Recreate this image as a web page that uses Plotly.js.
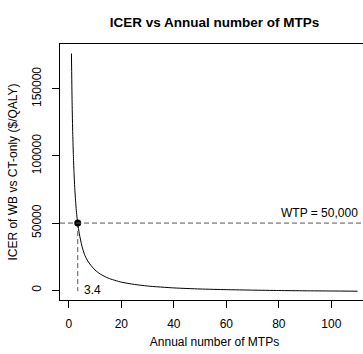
<!DOCTYPE html>
<html>
<head>
<meta charset="utf-8">
<script src="https://cdn.plot.ly/plotly-3.0.1.min.js"></script>
<style>
  html, body { margin: 0; padding: 0; overflow: hidden; background: #fff; }
  #chart { width: 372px; height: 354px; }
</style>
</head>
<body>
<div id="chart"></div>
<script>
// Annual number of MTPs and the resulting ICER of WB vs CT-only ($/QALY)
const mtps = [1, 1.25, 1.5, 1.75, 2, 2.25, 2.5, 2.75, 3, 3.4, 4, 5, 6, 7, 8, 10, 12, 15, 20, 25, 30, 40, 50, 60, 70, 80, 90, 100, 110];
const icer = [176300, 140000, 116000, 99500, 86500, 76500, 68500, 62000, 56500, 50000, 42000, 32800, 26500, 22500, 19500, 15000, 12000, 9000, 6000, 4300, 3100, 1700, 900, 400, 50, -250, -450, -600, -750];

// Willingness-to-pay threshold and the break-even number of MTPs
const wtp = 50000;
const wtpLabel = "WTP = 50,000";
const breakEven = 3.4;
const breakEvenLabel = "3.4";
const breakEvenFloor = -700;

// Axis ticks
const xTicks = [0, 20, 40, 60, 80, 100];
const yTicks = [0, 50000, 100000, 150000];
const yTickText = ["0", "50000", "100000", "150000"];

const font = "Liberation Sans, Arial, Helvetica, sans-serif";

const traces = [
  {
    x: mtps, y: icer, type: "scatter", mode: "lines",
    line: { color: "#000", width: 1, shape: "spline", smoothing: 0.6 },
    hoverinfo: "skip"
  },
  {
    // vertical guide from the threshold down to the curve floor
    x: [breakEven, breakEven], y: [wtp, breakEvenFloor], type: "scatter", mode: "lines",
    line: { color: "#555", width: 1, dash: "5px,3px" },
    hoverinfo: "skip"
  },
  {
    x: [breakEven], y: [wtp], type: "scatter", mode: "markers",
    marker: { color: "#000", size: 7 },
    hoverinfo: "skip"
  }
];

const layout = {
  width: 372, height: 354,
  margin: { l: 60, r: 3, t: 44, b: 54 },
  paper_bgcolor: "#fff", plot_bgcolor: "#fff",
  showlegend: false,
  font: { family: font, size: 12, color: "#000" },
  title: {
    text: "<b>ICER vs Annual number of MTPs</b>",
    font: { family: font, size: 13.5, color: "#000" },
    x: 0.5, xref: "paper", xanchor: "center",
    y: 15, yref: "container", yanchor: "middle"
  },
  xaxis: {
    range: [-3.36, 114.36],
    tickvals: xTicks, ticktext: xTicks.map(String),
    ticks: "outside", ticklen: 7, tickcolor: "#000", tickwidth: 1,
    ticklabelstandoff: 6,
    showgrid: false, zeroline: false,
    showline: true, mirror: true, linecolor: "#000", linewidth: 1,
    tickfont: { family: font, size: 12, color: "#000" },
    title: { text: "Annual number of MTPs", font: { family: font, size: 12, color: "#000" }, standoff: 7 }
  },
  yaxis: {
    range: [-7300, 183370],
    tickvals: yTicks, ticktext: yTickText,
    tickangle: -90,
    ticks: "outside", ticklen: 7, tickcolor: "#000", tickwidth: 1,
    ticklabelstandoff: 6,
    showgrid: false, zeroline: false,
    showline: true, mirror: true, linecolor: "#000", linewidth: 1,
    tickfont: { family: font, size: 12, color: "#000" },
    title: { text: "ICER of WB vs CT-only ($/QALY)", font: { family: font, size: 12, color: "#000" }, standoff: 10 }
  },
  shapes: [
    {
      type: "line", xref: "paper", x0: 0, x1: 1, yref: "y", y0: wtp, y1: wtp,
      line: { color: "#555", width: 1, dash: "5px,3px" }
    }
  ],
  annotations: [
    {
      x: 110, y: wtp, xref: "x", yref: "y", text: wtpLabel, showarrow: false,
      xanchor: "right", yanchor: "bottom", xshift: 2, yshift: 1,
      font: { family: font, size: 12, color: "#000" }
    },
    {
      x: breakEven, y: 0, xref: "x", yref: "y", text: breakEvenLabel, showarrow: false,
      xanchor: "left", yanchor: "middle", xshift: 4,
      font: { family: font, size: 12, color: "#000" }
    }
  ]
};

Plotly.newPlot("chart", traces, layout, { displayModeBar: false, staticPlot: true });
</script>
</body>
</html>
